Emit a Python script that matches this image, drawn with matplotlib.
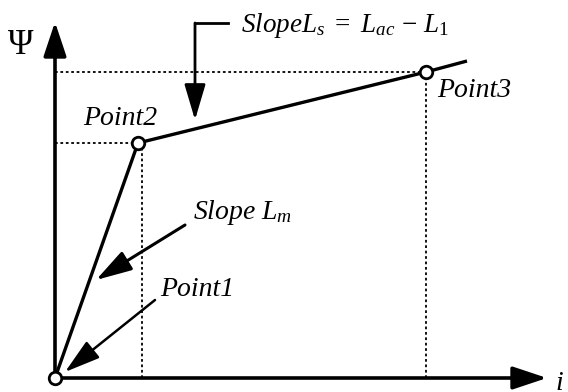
import matplotlib.pyplot as plt

plt.rcParams["mathtext.fontset"] = "custom"
plt.rcParams["mathtext.rm"] = "Liberation Serif"
plt.rcParams["mathtext.it"] = "Liberation Serif:italic"

# schematic flux-linkage curve (arbitrary units, origin at Point1)
point_names = ["Point1", "Point2", "Point3"]
point_i = [0, 83, 371]
point_psi = [0, 235, 306]
tail_i, tail_psi = 412, 317          # line continues past Point3

axis_i_max, axis_psi_max = 492, 356

fig = plt.figure(figsize=(5.68, 3.92), dpi=100)
ax = fig.add_axes([0, 0, 1, 1])
ax.set_xlim(-55, 513)
ax.set_ylim(-14, 378)
ax.axis("off")

serif = "Liberation Serif"
fs = 20

# ---- axes with arrowheads ----
axis_arrow = dict(arrowstyle="-|>,head_length=2.1,head_width=0.7",
                  mutation_scale=10, lw=2.6, color="black",
                  shrinkA=0, shrinkB=0)
ax.annotate("", xy=(0, axis_psi_max), xytext=(0, 0), arrowprops=axis_arrow)
ax.annotate("", xy=(axis_i_max, 0), xytext=(0, 0), arrowprops=axis_arrow)
ax.text(-34, 333, "Ψ", fontsize=25, family=serif, ha="center", va="center")
ax.text(500, -6, "i", fontsize=fs, family=serif, style="italic",
        ha="left", va="center")

# ---- dotted guides ----
dot = dict(color="black", lw=1.3, ls=(0, (1.5, 1.5)))
ax.plot([0, point_i[1]], [point_psi[1], point_psi[1]], **dot)
ax.plot([point_i[1] + 4, point_i[1] + 4], [0, point_psi[1]], **dot)
ax.plot([0, point_i[2]], [point_psi[2], point_psi[2]], **dot)
ax.plot([point_i[2], point_i[2]], [0, point_psi[2]], **dot)

# ---- piecewise linear curve ----
ax.plot(point_i + [tail_i], point_psi + [tail_psi], color="black", lw=2.4,
        solid_capstyle="butt", zorder=3)
ax.plot(point_i, point_psi, "o", ms=9, mfc="white", mec="black", mew=2,
        zorder=4)

# ---- labels ----
ax.text(28, 260, "Point2", fontsize=fs, family=serif, style="italic",
        ha="left", va="center")
ax.text(382, 288, "Point3", fontsize=fs, family=serif, style="italic",
        ha="left", va="center")
ax.text(105, 88, "Point1", fontsize=fs, family=serif, style="italic",
        ha="left", va="center")
ax.text(138, 166, r"$Slope\ L_m$", fontsize=fs, ha="left", va="center")
ax.text(186, 353, r"$SlopeL_s\ =\ L_{ac}\,-\,L_{\mathit{1}}$", fontsize=19.5,
        ha="left", va="center")

# ---- callout arrows ----
call = dict(arrowstyle="-|>,head_length=2.2,head_width=0.65",
            mutation_scale=10, color="black", shrinkA=0, shrinkB=0)
ax.annotate("", xy=(10, 6), xytext=(100, 78), arrowprops=dict(call, lw=1.8))
ax.annotate("", xy=(41, 98), xytext=(130, 153), arrowprops=dict(call, lw=2.2))
ax.plot([173, 140], [355, 355], color="black", lw=2)
ax.annotate("", xy=(140, 258), xytext=(140, 355),
            arrowprops=dict(call, lw=2))

fig.savefig("out.png", dpi=100)
